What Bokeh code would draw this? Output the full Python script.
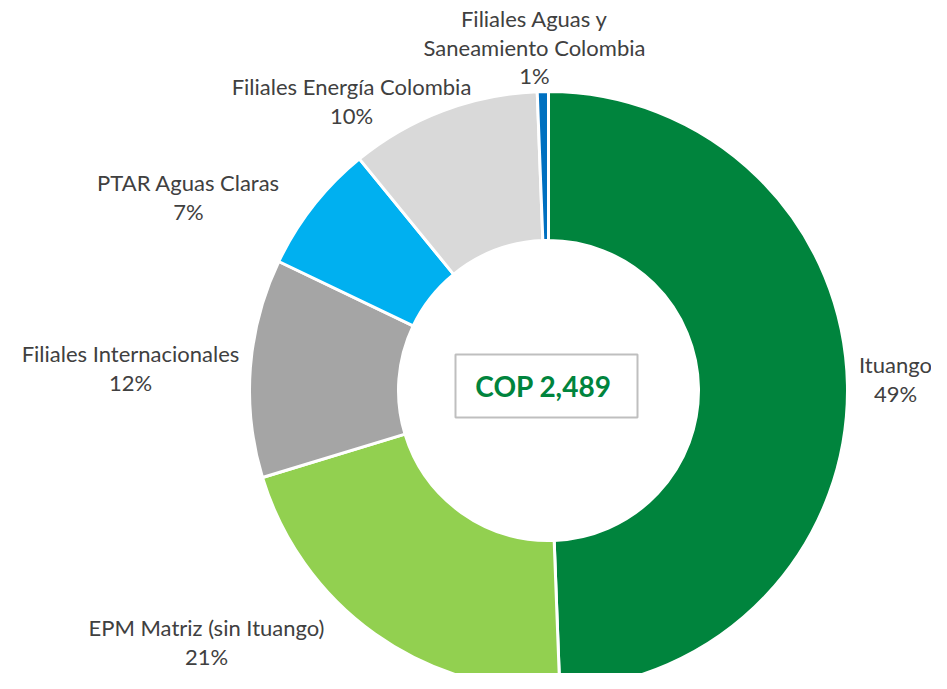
import math
from bokeh.plotting import figure
from bokeh.models import Range1d, ColumnDataSource
from bokeh.core.properties import value
from bokeh.embed import file_html
from bokeh.resources import INLINE

# ---- data ----
categories = ["Ituango", "EPM Matriz (sin Ituango)", "Filiales Internacionales",
              "PTAR Aguas Claras", "Filiales Energía Colombia",
              "Filiales Aguas y\nSaneamiento Colombia"]
shares = [49.4, 20.9, 11.8, 7.0, 10.3, 0.6]
total_label = "COP 2,489"

colors = ["#00843D", "#92D050", "#A5A5A5", "#00B0F0", "#D9D9D9", "#0070C0"]

# label anchor positions (reference pixel coords: x from left, y from top of first line)
label_pos = [(895, 364), (206, 627), (130, 353), (188, 182), (351, 86), (534, 18)]

W, H = 931, 673
H_REF = 689  # data y = H_REF - pixel y

p = figure(width=W, height=H, output_backend="svg", toolbar_location=None,
           x_range=Range1d(0, W), y_range=Range1d(H_REF - H, H_REF),
           min_border=0, outline_line_color=None)
p.axis.visible = False
p.grid.visible = False
p.background_fill_color = "white"
p.border_fill_color = "white"

cx, cy = 548, H_REF - 390
r_out, r_in = 299, 150

tot = sum(shares)
starts, ends = [], []
c = 0.0
for s in shares:
    c0 = c / tot
    c += s
    c1 = c / tot
    starts.append(math.pi / 2 - 2 * math.pi * c1)
    ends.append(math.pi / 2 - 2 * math.pi * c0)

src = ColumnDataSource(dict(start=starts, end=ends, color=colors))
p.annular_wedge(x=cx, y=cy, inner_radius=r_in, outer_radius=r_out,
                start_angle="start", end_angle="end", direction="anticlock",
                fill_color="color", line_color="white", line_width=3, source=src)

# labels
tx, ty, tt = [], [], []
line_h = 28.5
for cat, s, (lx, ly) in zip(categories, shares, label_pos):
    lines = cat.split("\n") + [f"{round(s)}%"]
    for i, ln in enumerate(lines):
        tx.append(lx)
        ty.append(H_REF - (ly + i * line_h))
        tt.append(ln)
p.text(x=tx, y=ty, text=tt, text_font=value("Lato"), text_font_size="22px",
       text_color="#404040", text_align="center", text_baseline="middle")

# center box
p.quad(left=[455], right=[637], top=[H_REF - 354], bottom=[H_REF - 417],
       fill_color="white", line_color="#BFBFBF", line_width=2)
p.text(x=[543], y=[H_REF - 385], text=[total_label], text_font=value("Lato"),
       text_font_size="28px", text_font_style="bold", text_color="#00843D",
       text_align="center", text_baseline="middle")

open("out.html", "w").write(file_html(p, INLINE))
